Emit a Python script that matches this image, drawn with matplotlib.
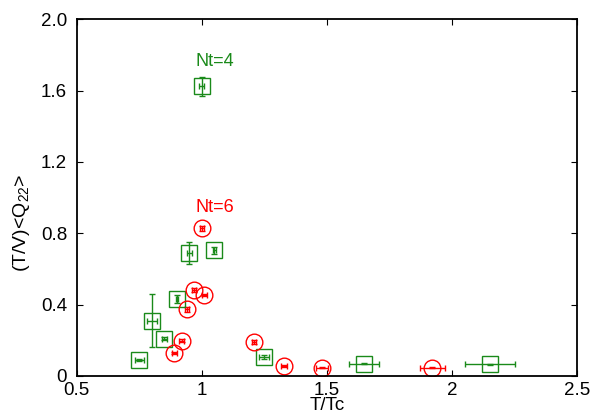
import numpy as np
import matplotlib
matplotlib.use("Agg")
import matplotlib.pyplot as plt

plt.rcParams['font.family'] = ['Liberation Sans', 'DejaVu Sans']
plt.rcParams['mathtext.fontset'] = 'custom'
plt.rcParams['mathtext.rm'] = 'Liberation Sans'

# Nt=4 (green squares)
nt4_x = [0.75, 0.80, 0.85, 0.90, 0.95, 1.00, 1.05, 1.25, 1.65, 2.15]
nt4_y = [0.09, 0.31, 0.21, 0.43, 0.69, 1.625, 0.705, 0.105, 0.07, 0.065]
nt4_xerr = [0.018, 0.02, 0.01, 0.005, 0.01, 0.01, 0.005, 0.02, 0.06, 0.10]
nt4_yerr = [0.008, 0.147, 0.01, 0.022, 0.06, 0.053, 0.02, 0.01, 0.005, 0.005]

# Nt=6 (red circles)
nt6_x = [0.89, 0.92, 0.94, 0.97, 1.00, 1.01, 1.21, 1.33, 1.48, 1.92]
nt6_y = [0.127, 0.198, 0.373, 0.482, 0.827, 0.454, 0.189, 0.056, 0.047, 0.047]
nt6_xerr = [0.01, 0.01, 0.008, 0.008, 0.008, 0.01, 0.008, 0.012, 0.025, 0.05]
nt6_yerr = [0.005, 0.008, 0.012, 0.012, 0.012, 0.005, 0.012, 0.005, 0.003, 0.003]

green = '#1a8a1a'
red = '#ff0000'

fig = plt.figure(figsize=(5.95, 4.13), dpi=100)
ax = fig.add_axes([0.129, 0.0896, 0.841, 0.864])

ax.errorbar(nt4_x, nt4_y, xerr=nt4_xerr, yerr=nt4_yerr, fmt='s', ms=11.5,
            mfc='none', mec=green, mew=1.0, ecolor=green, elinewidth=1.0,
            capsize=2, capthick=1.0)
ax.errorbar(nt6_x, nt6_y, xerr=nt6_xerr, yerr=nt6_yerr, fmt='o', ms=12,
            mfc='none', mec=red, mew=1.0, ecolor=red, elinewidth=1.0,
            capsize=2, capthick=1.0)

ax.text(0.975, 1.76, 'Nt=4', color=green, fontsize=13, va='center', ha='left')
ax.text(0.975, 0.947, 'Nt=6', color=red, fontsize=13, va='center', ha='left')

ax.set_xlim(0.5, 2.5)
ax.set_ylim(0, 2.0)
ax.set_xticks([0.5, 1, 1.5, 2, 2.5])
ax.set_xticklabels(['0.5', '1', '1.5', '2', '2.5'])
ax.set_yticks([0, 0.4, 0.8, 1.2, 1.6, 2.0])
ax.set_yticklabels(['0', '0.4', '0.8', '1.2', '1.6', '2.0'])
ax.tick_params(direction='in', top=True, right=True, length=4, labelsize=13.5)
ax.tick_params(axis='y', pad=7)
ax.tick_params(axis='x', pad=4)
for s in ax.spines.values():
    s.set_linewidth(1.3)

ax.set_xlabel('T/Tc', fontsize=13.5, labelpad=-1)
ax.set_ylabel('(T/V)<Q$_{22}$>', fontsize=14)
ax.yaxis.set_label_coords(-0.09, 0.43)

fig.savefig('out.png', dpi=100)
